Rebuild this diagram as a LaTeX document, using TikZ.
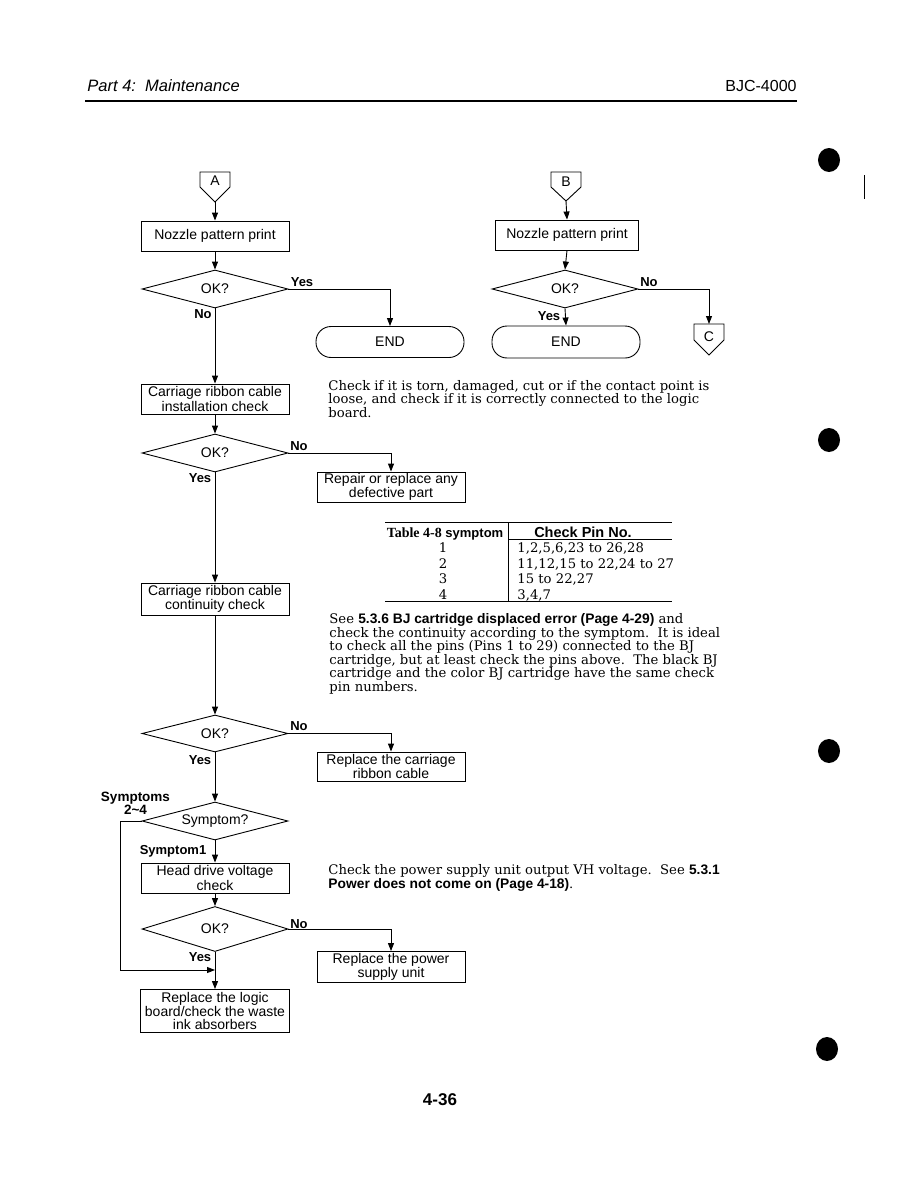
\documentclass[tikz,border=0pt]{standalone}
\usepackage{fontspec}
\setmainfont{Liberation Sans}
\newfontfamily\bkfont{DejaVu Serif}
\newfontfamily\tmfont{Liberation Serif}
\usetikzlibrary{shapes.geometric,arrows.meta,calc}
\tikzset{
  fc/.style={font=\fontsize{14}{12.8}\selectfont},
  box/.style={draw, fc, minimum width=148pt, minimum height=30pt, align=center, inner sep=0pt},
  dec/.style={draw, fc, diamond, aspect=4, minimum width=146pt, minimum height=38pt, inner sep=0pt},
  term/.style={draw, fc, rounded corners=15pt, minimum width=148pt, minimum height=31pt, inner sep=0pt},
  arr/.style={-{Triangle[length=8pt,width=6pt]}},
  lab/.style={font=\fontsize{13}{13}\selectfont\bfseries, inner sep=0pt, align=center},
  body/.style={font=\bkfont\fontsize{13.2}{13.5}\selectfont, align=left, anchor=north west, inner sep=0pt},
  tbl/.style={font=\bkfont\fontsize{13.2}{13.5}\selectfont, anchor=base, inner sep=0pt},
  hb/.style={font=\fontsize{13}{13.5}\selectfont\bfseries, anchor=base, inner sep=0pt},
  conn/.style={fc, inner sep=0pt},
  dot/.style={fill=black}
}
\newcommand\hvb[1]{{\rmfamily\bfseries\fontsize{13.8}{13.5}\selectfont #1}}
\begin{document}
\begin{tikzpicture}[x=1pt,y=-1pt, line width=0.9pt]
\useasboundingbox[fill=white] (0,0) rectangle (918,1188);

% header
\node[font=\fontsize{16.5}{16}\selectfont\itshape, anchor=base west, inner sep=0pt] (hdl) at (87,92) {Part 4:\ \ Maintenance};
\node[font=\fontsize{16}{16}\selectfont, anchor=base east, inner sep=0pt] (hdr) at (797,92) {BJC-4000};
\draw[line width=1.2pt] (85,101) -- (797,101);

% margin dots
\fill[dot] (829,160) ellipse [x radius=11pt, y radius=12pt];
\fill[dot] (829,440) ellipse [x radius=11pt, y radius=12pt];
\fill[dot] (829,751) ellipse [x radius=11pt, y radius=12pt];
\fill[dot] (827,1049) ellipse [x radius=11pt, y radius=12pt];
\draw[line width=1pt] (864,175) -- (864,199);

% ---------- left column ----------
\node[conn] (A) at (215,181) {A};
\coordinate (Atip) at ($(A)+(0,21)$);
\draw ($(A)+(-15,-9)$) -- ($(A)+(15,-9)$) -- ($(A)+(15,6)$) -- (Atip) -- ($(A)+(-15,6)$) -- cycle;

\node[box] (nA) at (215,236) {Nozzle pattern print};
\node[dec] (d1) at (215,289) {OK?};
\node[term] (end1) at (390,342) {END};
\node[box] (box2) at (215,399) {Carriage ribbon cable\\installation check};
\node[dec] (d2) at (215,453) {OK?};
\node[box] (rep1) at (391,487) {Repair or replace any\\defective part};
\node[box, minimum height=32pt] (box3) at (215,599) {Carriage ribbon cable\\continuity check};
\node[dec, minimum height=37pt] (d3) at (215,733.5) {OK?};
\node[box, minimum height=29pt] (rep2) at (391,766.5) {Replace the carriage\\ribbon cable};
\node[dec] (sym) at (215,821) {Symptom?};
\node[box] (hd) at (215,878) {Head drive voltage\\check};
\node[dec, minimum height=45pt] (d4) at (215,929) {OK?};
\node[box, minimum height=31pt] (rep3) at (391,967) {Replace the power\\supply unit};
\node[box, minimum height=43pt, minimum width=149pt] (logic) at (215,1011) {Replace the logic\\board/check the waste\\ink absorbers};
\coordinate (jn) at (215,970);

\draw[arr] (Atip) -- (nA.north);
\draw[arr] (nA.south) -- (d1.north);
\draw[arr] (d1.east) -| (end1.north);
\draw[arr] (d1.south) -- (box2.north);
\draw[arr] (box2.south) -- (d2.north);
\draw[arr] (d2.east) -| (rep1.north);
\draw[arr] (d2.south) -- (box3.north);
\draw[arr] (box3.south) -- (d3.north);
\draw[arr] (d3.east) -| (rep2.north);
\draw[arr] (d3.south) -- (sym.north);
\draw[arr] (sym.south) -- (hd.north);
\draw[arr] (hd.south) -- (d4.north);
\draw[arr] (d4.east) -| (rep3.north);
\draw[arr] (d4.south) -- (logic.north);
\draw[arr] (sym.west) -- ++(-21,0) |- (jn);

\node[lab] (l1) at (302,282) {Yes};
\node[lab] (l2) at (203,314) {No};
\node[lab] (l3) at (299,446) {No};
\node[lab] (l4) at (200,478) {Yes};
\node[lab] (l5) at (299,726) {No};
\node[lab] (l6) at (200,760) {Yes};
\node[lab, font=\fontsize{13.5}{13}\selectfont\bfseries] (l7) at (135.5,803.5) {Symptoms\\2\textasciitilde4};
\node[lab] (l8) at (173,851) {Symptom1};
\node[lab] (l9) at (299,924) {No};
\node[lab] (l10) at (200,957) {Yes};

% ---------- right column ----------
\node[conn] (B) at (566,182) {B};
\coordinate (Btip) at ($(B)+(0,19)$);
\draw ($(B)+(-15,-10)$) -- ($(B)+(15,-10)$) -- ($(B)+(15,5)$) -- (Btip) -- ($(B)+(-15,5)$) -- cycle;
\node[box, minimum width=143pt] (nB) at (567,235) {Nozzle pattern print};
\node[dec] (d1b) at (565,289) {OK?};
\node[term, minimum height=32pt] (end2) at (566,342) {END};
\node[conn] (C) at (709,337) {C};
\coordinate (Ctop) at ($(C)+(0,-13)$);
\draw (Ctop) ++(-15,0) -- ++(30,0) -- ++(0,16) -- ($(C)+(0,18)$) -- ($(C)+(-15,3)$) -- cycle;

\draw[arr] (Btip) -- (nB.north);
\draw[arr] (nB.south) -- (d1b.north);
\draw[arr] (d1b.south) -- (end2.north);
\draw[arr] (d1b.east) -| (Ctop);
\node[lab] (l11) at (649,282) {No};
\node[lab] (l12) at (549,316) {Yes};

% ---------- texts ----------
\node[body] (t1) at (328,380) {Check if it is torn, damaged, cut or if the contact point is\\
loose, and check if it is correctly connected to the logic\\
board.};

\draw[line width=0.6pt] (385,522) -- (672,522);
\draw[line width=0.6pt] (508,522) -- (508,601);
\draw[line width=0.6pt] (508,539) -- (672,539);
\draw[line width=0.6pt] (385,601) -- (672,601);
\node[hb] (th1) at (445,537) {{\tmfont\bfseries\fontsize{14}{14}\selectfont Table 4-8} symptom};
\node[hb, font=\fontsize{14.5}{14}\selectfont\bfseries] (th2) at (583,537) {Check Pin No.};
\node[tbl] (r1) at (443,552) {1};
\node[tbl] (r2) at (443,568) {2};
\node[tbl] (r3) at (443,583) {3};
\node[tbl] (r4) at (443,599) {4};
\node[tbl, anchor=base west] (p1) at (517,552) {1,2,5,6,23 to 26,28};
\node[tbl, anchor=base west] (p2) at (517,568) {11,12,15 to 22,24 to 27};
\node[tbl, anchor=base west] (p3) at (517,583) {15 to 22,27};
\node[tbl, anchor=base west] (p4) at (517,599) {3,4,7};

\node[body] (t2) at (329,613.5) {See \hvb{5.3.6 BJ cartridge displaced error (Page 4-29)} and\\
check the continuity according to the symptom.\ \ It is ideal\\
to check all the pins (Pins 1 to 29) connected to the BJ\\
cartridge, but at least check the pins above.\ \ The black BJ\\
cartridge and the color BJ cartridge have the same check\\
pin numbers.};

\node[body] (t3) at (328,864.5) {Check the power supply unit output VH voltage.\ \ See \hvb{5.3.1}\\
\hvb{Power does not come on (Page 4-18)}.};

\node[font=\fontsize{17}{17}\selectfont\bfseries, inner sep=0pt] (pg) at (440,1100) {4-36};
\end{tikzpicture}
\end{document}
